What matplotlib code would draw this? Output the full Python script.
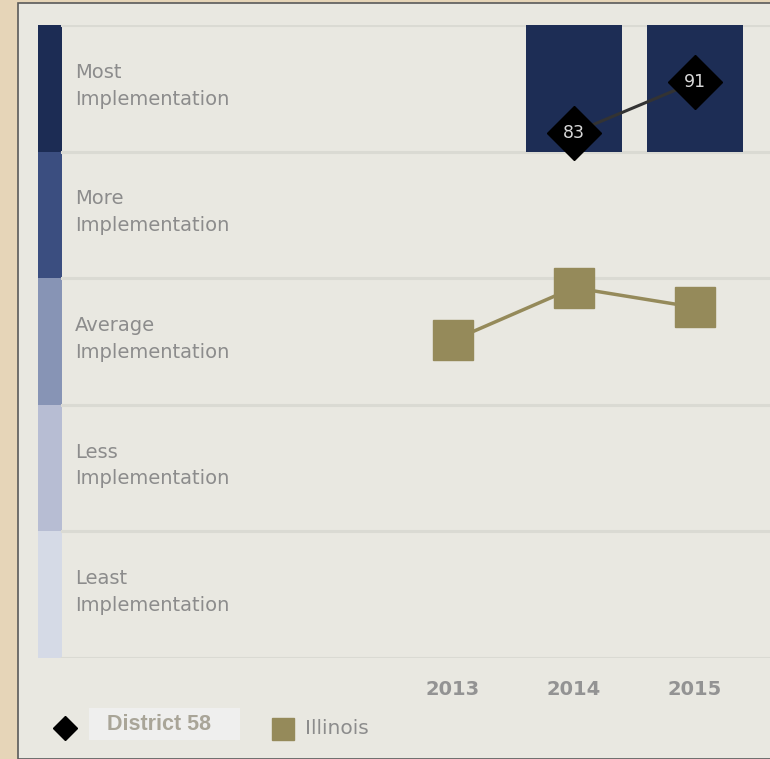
import matplotlib
matplotlib.use("Agg")
import matplotlib.pyplot as plt
from matplotlib.patches import Rectangle
from matplotlib.lines import Line2D

# ---- data ----
years = ["2013", "2014", "2015"]
district_years = ["2014", "2015"]
district_values = [83, 91]
illinois_values = [50.2, 58.5, 55.4]
band_labels = ["Least\nImplementation", "Less\nImplementation", "Average\nImplementation",
               "More\nImplementation", "Most\nImplementation"]
band_edges = [0, 20, 40, 60, 80, 100]
band_colors = ["#D5DAE6", "#B7BDD3", "#8794B5", "#3B4E80", "#1C2C54"]

W, H = 770, 759
fig = plt.figure(figsize=(W / 100, H / 100), dpi=100)
fig.patch.set_facecolor("#E6D5B8")

# panel background with border
fig.add_artist(Rectangle((18 / W, 0), 1 - 18 / W + 0.01, 1 - 3 / H, transform=fig.transFigure,
                         facecolor="#E9E8E1", edgecolor="#5A5A5A", lw=1.2, zorder=0))

ax_l, ax_r, ax_t, ax_b = 38, 770, 25, 658
ax = fig.add_axes([ax_l / W, 1 - ax_b / H, (ax_r - ax_l) / W, (ax_b - ax_t) / H])
ax.set_facecolor("none")
for s in ax.spines.values():
    s.set_visible(False)

x0_px, dx_px = 453, 121
ax.set_xlim((ax_l - x0_px) / dx_px, (ax_r - x0_px) / dx_px)
ax.set_ylim(0, 100)

strip_w = (62 - ax_l) / (ax_r - ax_l)
label_x = (75 - ax_l) / (ax_r - ax_l)
ytr = ax.get_yaxis_transform()
for i, lab in enumerate(band_labels):
    lo, hi = band_edges[i], band_edges[i + 1]
    ax.add_patch(Rectangle((0, lo), strip_w, hi - lo, transform=ytr,
                           facecolor=band_colors[i], edgecolor="none", zorder=1))
    ax.text(label_x, (lo + hi) / 2 + 0.4, lab, transform=ytr, ha="left", va="center",
            fontsize=14, color="#8C8C8C", linespacing=1.52, zorder=2)

for e in band_edges:
    ax.axhline(e, xmin=strip_w, xmax=1, color="#DADAD3", lw=2.2, zorder=1)

xpos = {y: i for i, y in enumerate(years)}

# district bars showing band reached
dx = [xpos[y] for y in district_years]
bottoms = [min(int(v // 20) * 20, 80) for v in district_values]
ax.bar(dx, [20] * len(dx), bottom=bottoms, width=0.79, color="#1D2D55", zorder=3)

# Illinois line
ix = [xpos[y] for y in years]
ax.plot(ix, illinois_values, color="#958A5A", lw=2.5, marker="s", markersize=29,
        markerfacecolor="#958A5A", markeredgecolor="#958A5A", zorder=4)

# district line
ax.plot(dx, district_values, color="#333333", lw=2.2, marker="D", markersize=27,
        markerfacecolor="black", markeredgecolor="black", zorder=5)
for x, v in zip(dx, district_values):
    ax.text(x, v, str(v), ha="center", va="center", color="#D8D8D8", fontsize=12.5, zorder=6)

ax.set_xticks(ix)
ax.set_xticklabels(years, fontsize=14, color="#939393", fontweight="bold")
ax.tick_params(axis="x", length=0, pad=15.5)
ax.set_yticks([])

# legend
fig.add_artist(Line2D([65 / W], [1 - 728 / H], marker="D", markersize=12,
                      color="black", transform=fig.transFigure))
fig.add_artist(Rectangle((89 / W, 1 - 740 / H), 151 / W, 32 / H, transform=fig.transFigure,
                         facecolor="#EFEFEE", edgecolor="none", zorder=2))
fig.text(107 / W, 1 - 725 / H, "District 58", ha="left", va="center", fontsize=15.5,
         fontweight="bold", color="#A9A598", family="Liberation Sans", zorder=3)
fig.add_artist(Line2D([282.5 / W], [1 - 728.5 / H], marker="s", markersize=16.5,
                      color="#958A5A", transform=fig.transFigure))
fig.text(305 / W, 1 - 728 / H, "Illinois", ha="left", va="center", fontsize=14.5,
         color="#8C8C8C")

fig.savefig("out.png", dpi=100, facecolor=fig.get_facecolor())
